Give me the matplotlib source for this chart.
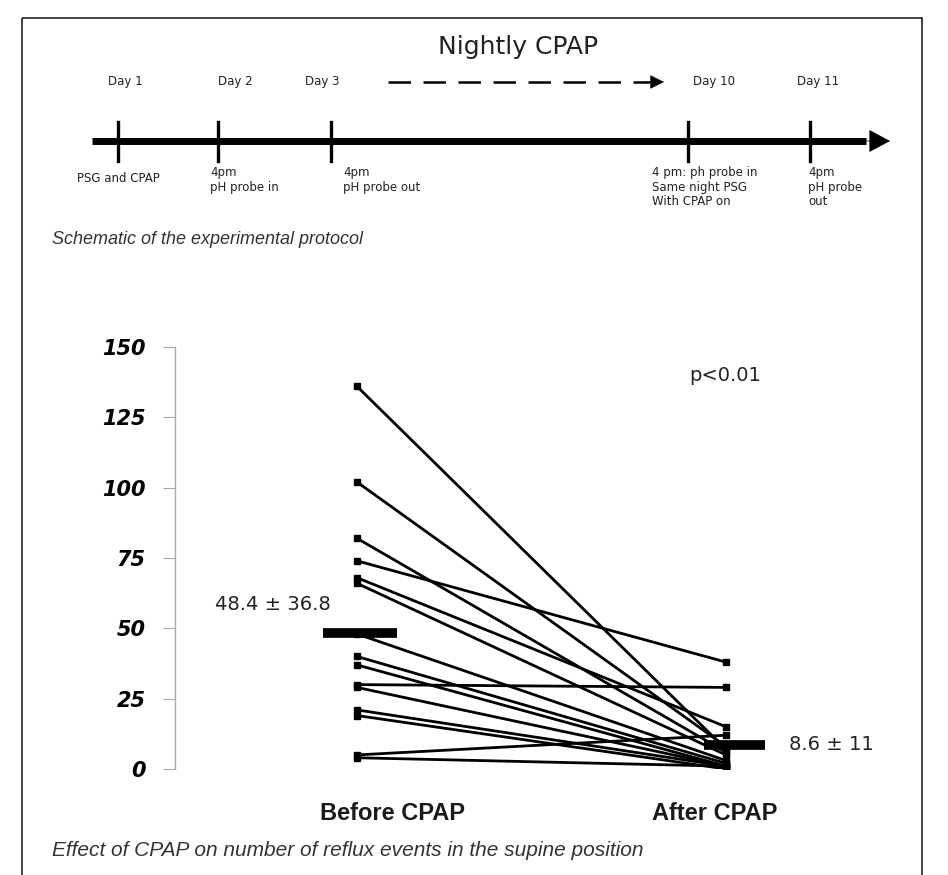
import matplotlib.pyplot as plt
from matplotlib.patches import Rectangle

# protocol timeline
day_labels = ['Day 1', 'Day 2', 'Day 3', 'Day 10', 'Day 11']
day_notes = ['PSG and CPAP', '4pm\npH probe in', '4pm\npH probe out',
             '4 pm: ph probe in\nSame night PSG\nWith CPAP on', '4pm\npH probe\nout']

# supine reflux events per subject
groups = ['Before CPAP', 'After CPAP']
before = [136, 102, 82, 74, 68, 66, 48, 40, 37, 30, 29, 21, 19, 5, 4]
after = [7, 8, 6, 38, 15, 5, 3, 2, 1, 29, 1, 1, 0, 12, 1]
mean_before, sd_before = 48.4, 36.8
mean_after, sd_after = 8.6, 11
p_text = 'p<0.01'
y_ticks = [0, 25, 50, 75, 100, 125, 150]

W, H = 948, 875
fig = plt.figure(figsize=(W / 100, H / 100), dpi=100)

# full-figure layer for the schematic, captions and frame (pixel units)
lay = fig.add_axes([0, 0, 1, 1])
lay.set_xlim(0, W)
lay.set_ylim(H, 0)
lay.axis('off')

lay.add_patch(Rectangle((22, 18), 900, 880, fill=False, lw=1.2, ec='#222222'))

tick_x = [118, 218, 331, 688, 810]
label_x = [125, 235, 322, 714, 818]
note_x = [77, 210, 343, 652, 808]
note_y = [172, 166, 166, 166, 166]
line_y = 141

lay.plot([92, 866], [line_y, line_y], color='black', lw=5, solid_capstyle='butt')
lay.annotate('', xy=(890, line_y), xytext=(860, line_y),
             arrowprops=dict(arrowstyle='-|>,head_length=1.4,head_width=0.75',
                             color='black', lw=0.5, shrinkA=0, shrinkB=0))
for x in tick_x:
    lay.plot([x, x], [122, 161], color='black', lw=2.4)

tl_font = dict(family='DejaVu Sans', fontsize=8.5, color='#222222')
for x, lab in zip(label_x, day_labels):
    lay.text(x, 82, lab, ha='center', va='center', **tl_font)
for x, y, note in zip(note_x, note_y, day_notes):
    lay.text(x, y, note, ha='left', va='top', linespacing=1.15, **tl_font)

lay.text(518, 47, 'Nightly CPAP', ha='center', va='center',
         fontsize=18, family='DejaVu Sans', color='#222222')
lay.plot([388, 650], [82, 82], color='black', lw=1.8, dashes=(9, 5))
lay.annotate('', xy=(664, 82), xytext=(646, 82),
             arrowprops=dict(arrowstyle='-|>,head_length=0.9,head_width=0.45',
                             color='black', lw=0.5, shrinkA=0, shrinkB=0))

cap_font = dict(family='Liberation Sans', style='italic', color='#333333')
lay.text(52, 240, 'Schematic of the experimental protocol', ha='left', va='center',
         fontsize=13, **cap_font)
lay.text(52, 850, 'Effect of CPAP on number of reflux events in the supine position',
         ha='left', va='center', fontsize=15, **cap_font)

# paired before/after plot
ax = fig.add_axes([175 / W, (H - 769) / H, 745 / W, 422 / H])
ax.patch.set_alpha(0)
px = 369.0
ax.set_xlim(-(357 - 175) / px, (920 - 357) / px)
ax.set_ylim(0, 150)

for b, a in zip(before, after):
    ax.plot([0, 1], [b, a], color='black', lw=2.0, marker='s', markersize=5,
            solid_capstyle='round')

ax.plot([-0.092, 0.108], [mean_before, mean_before], color='black', lw=7,
        solid_capstyle='butt')
ax.plot([1 - 0.06, 1 + 0.105], [mean_after, mean_after], color='black', lw=7,
        solid_capstyle='butt')
ax.text(-0.07, mean_before + 10, f'{mean_before} ± {sd_before}', ha='right',
        va='center', fontsize=14, family='DejaVu Sans', color='#222222')
ax.text(1.17, mean_after, f'{mean_after} ± {sd_after}', ha='left',
        va='center', fontsize=14, family='DejaVu Sans', color='#222222')
ax.text(0.9, 140, p_text, ha='left', va='center', fontsize=14,
        family='DejaVu Sans', color='#222222')

for s in ['top', 'right', 'bottom']:
    ax.spines[s].set_visible(False)
ax.spines['left'].set_color('#aaaaaa')
ax.spines['left'].set_linewidth(1)
ax.set_yticks(y_ticks)
ax.set_yticklabels([str(t) for t in y_ticks], fontsize=15, fontweight='heavy',
                   style='italic', family='DejaVu Sans')
ax.tick_params(axis='y', length=9, color='#aaaaaa', pad=12)
ax.set_xticks([0.095, 0.97])
ax.set_xticklabels(groups, fontsize=17, fontweight='bold', family='Liberation Sans',
                   color='#1a1a1a')
ax.tick_params(axis='x', length=0, pad=24)

fig.savefig('out.png', dpi=100)
